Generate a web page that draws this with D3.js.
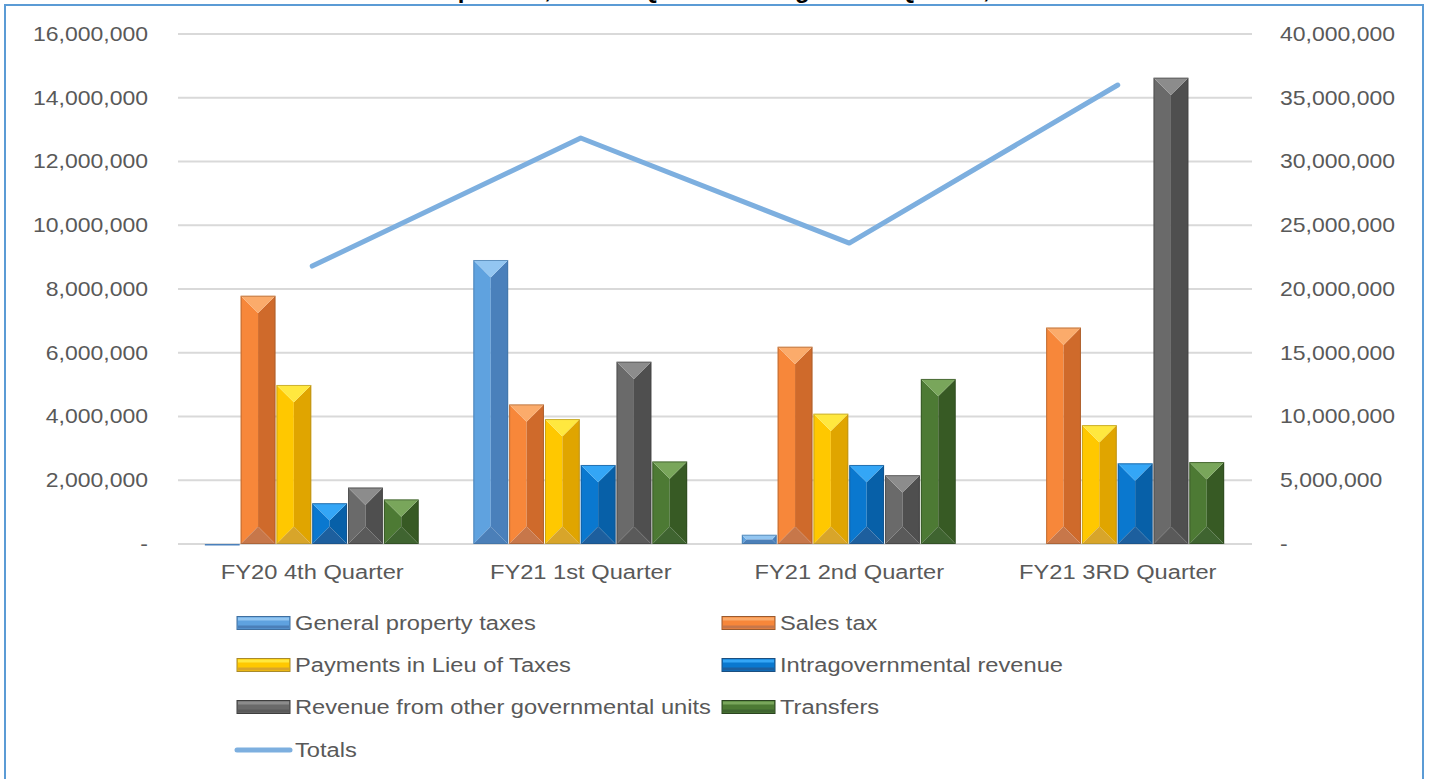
<!DOCTYPE html>
<html><head><meta charset="utf-8">
<script src="https://cdn.jsdelivr.net/npm/d3@7"></script>
<style>
body{margin:0;background:#fff;overflow:hidden;}
svg{display:block;}
text{font-family:"Liberation Sans",Arial,sans-serif;}
</style>
</head><body>
<svg id="c" width="1431" height="779"></svg>
<script>
// ---------- data ----------
const categories = ["FY20 4th Quarter", "FY21 1st Quarter", "FY21 2nd Quarter", "FY21 3RD Quarter"];
const seriesNames = ["General property taxes", "Sales tax", "Payments in Lieu of Taxes",
  "Intragovernmental revenue", "Revenue from other governmental units", "Transfers"];
const generalPropertyTaxes = [-20000, 8910000, 290000, 0];
const salesTax = [7790000, 4380000, 6190000, 6790000];
const paymentsInLieu = [4990000, 3920000, 4090000, 3730000];
const intragovernmental = [1280000, 2480000, 2480000, 2530000];
const otherGovernmental = [1770000, 5720000, 2160000, 14630000];
const transfers = [1400000, 2590000, 5180000, 2570000];
const totals = [21800000, 31840000, 23600000, 36000000];
const totalsName = "Totals";
const leftTicks = [0, 2000000, 4000000, 6000000, 8000000, 10000000, 12000000, 14000000, 16000000];
const rightTicks = [0, 5000000, 10000000, 15000000, 20000000, 25000000, 30000000, 35000000, 40000000];
const titleText = "Revenue Comparison, Fourth Quarter through Third Quarter, FY20 - FY21";

const seriesValues = [generalPropertyTaxes, salesTax, paymentsInLieu, intragovernmental, otherGovernmental, transfers];

// ---------- styles ----------
const palette = [
  {left:"#5fa2df", right:"#4a80bb", top:"#93c6f1", bottom:"#4b7fb8", stroke:"#3f6f9f"},
  {left:"#f7873a", right:"#cf6a2b", top:"#fbab6b", bottom:"#c7774a", stroke:"#9a5a2e"},
  {left:"#ffc800", right:"#e0a500", top:"#ffe83f", bottom:"#d8a52a", stroke:"#a98a2a"},
  {left:"#0a78cf", right:"#0760a8", top:"#34a6f6", bottom:"#1d5f9e", stroke:"#1b4f80"},
  {left:"#6a6a6a", right:"#4f4f4f", top:"#8c8c8c", bottom:"#5a5a5a", stroke:"#3e3e3e"},
  {left:"#4d7a34", right:"#375a24", top:"#79a65b", bottom:"#3f6430", stroke:"#2b4420"}
];
const textColor = "#595959";
const gridColor = "#d9d9d9";
const lineColor = "#7dafdf";
const sx = 1.15; // horizontal text stretch of the reference

const svg = d3.select("#c");

// border + clipped title (cut off at the top edge, as in the reference)
svg.append("text").attr("x", 715).attr("y", -2).attr("text-anchor", "middle")
  .attr("font-size", 24).attr("font-weight", "bold").attr("fill", "#000").text(titleText);
svg.append("rect").attr("x", 5).attr("y", 5).attr("width", 1418).attr("height", 820)
  .attr("fill", "none").attr("stroke", "#5b9bd5").attr("stroke-width", 2);

// ---------- scales ----------
const plotL = 178, plotR = 1252, y0px = 544, y1px = 34;
const x0 = d3.scaleBand().domain(categories).range([plotL, plotR]).paddingInner(0.2).paddingOuter(0.1);
const x1 = d3.scaleBand().domain(seriesNames).range([0, x0.bandwidth()]);
const yL = d3.scaleLinear().domain([0, 16000000]).range([y0px, y1px]);
const yR = d3.scaleLinear().domain([0, 40000000]).range([y0px, y1px]);
const fmt = v => v === 0 ? "-" : d3.format(",")(v);

function stext(g, x, y, str, anchor, size) {
  return g.append("text")
    .attr("transform", `translate(${x},${y}) scale(${sx},1)`)
    .attr("text-anchor", anchor).attr("dominant-baseline", "central")
    .attr("font-size", size || 20).attr("fill", textColor).text(str);
}

// gridlines
const grid = svg.append("g");
grid.selectAll("line").data(leftTicks).join("line")
  .attr("x1", plotL).attr("x2", plotR)
  .attr("y1", d => yL(d)).attr("y2", d => yL(d))
  .attr("stroke", gridColor).attr("stroke-width", 2);

// axes (labels via library scales)
const axL = svg.append("g");
leftTicks.forEach(t => stext(axL, 148, yL(t), fmt(t), "end"));
const axR = svg.append("g");
rightTicks.forEach(t => stext(axR, 1280, yR(t), fmt(t), "start"));
const axX = svg.append("g");
categories.forEach(c => stext(axX, x0(c) + x0.bandwidth() / 2, 572, c, "middle", 20.6));

// ---------- bars ----------
function bevelBar(g, x, w, v, p) {
  const yb = yL(0), yt = yL(v);
  if (v <= 0) {
    g.append("rect").attr("x", x).attr("y", yb).attr("width", w).attr("height", Math.max(1.5, yL(v) - yb))
      .attr("fill", p.right);
    return;
  }
  const h = yb - yt;
  const d = Math.min(w / 2, h / 2);
  const xa = x, xb = x + w, xc = x + w / 2;
  const poly = (pts, fill) => g.append("path").attr("d", "M" + pts.map(q => q.join(",")).join("L") + "Z").attr("fill", fill);
  poly([[xa, yt], [xa + d, yt + d], [xc, yt + d], [xc, yb - d], [xa + d, yb - d], [xa, yb]], p.left);
  poly([[xb, yt], [xb - d, yt + d], [xc, yt + d], [xc, yb - d], [xb - d, yb - d], [xb, yb]], p.right);
  poly([[xa, yt], [xb, yt], [xb - d, yt + d], [xa + d, yt + d]], p.top);
  poly([[xa, yb], [xb, yb], [xb - d, yb - d], [xa + d, yb - d]], p.bottom);
  g.append("rect").attr("x", xa + 0.5).attr("y", yt + 0.5).attr("width", w - 1).attr("height", Math.max(0, h - 1))
    .attr("fill", "none").attr("stroke", p.stroke).attr("stroke-opacity", 0.6).attr("stroke-width", 1);
}

const bars = svg.append("g");
categories.forEach((c, ci) => {
  seriesNames.forEach((s, si) => {
    const v = seriesValues[si][ci];
    if (v === 0) return;
    bevelBar(bars, x0(c) + x1(s), x1.bandwidth() - 1, v, palette[si]);
  });
});

// ---------- totals line ----------
const line = d3.line().x((d, i) => x0(categories[i]) + x0.bandwidth() / 2).y(d => yR(d));
svg.append("path").datum(totals).attr("d", line).attr("fill", "none")
  .attr("stroke", lineColor).attr("stroke-width", 5).attr("stroke-linecap", "round").attr("stroke-linejoin", "round");

// ---------- legend ----------
const leg = svg.append("g");
const legCols = [237, 722], legRows = [623, 665, 707, 750];
function legendSwatch(x, y, p) {
  leg.append("rect").attr("x", x).attr("y", y - 6.5).attr("width", 53).attr("height", 13).attr("fill", p.left)
    .attr("stroke", p.stroke).attr("stroke-width", 1);
  leg.append("rect").attr("x", x + 1).attr("y", y - 5.5).attr("width", 51).attr("height", 3).attr("fill", p.top);
  leg.append("rect").attr("x", x + 1).attr("y", y + 2.5).attr("width", 51).attr("height", 3).attr("fill", p.bottom);
}
seriesNames.forEach((s, i) => {
  const x = legCols[i % 2], y = legRows[Math.floor(i / 2)];
  legendSwatch(x, y, palette[i]);
  stext(leg, x + 58, y, s, "start", 20.6);
});
leg.append("line").attr("x1", 237).attr("x2", 290).attr("y1", legRows[3]).attr("y2", legRows[3])
  .attr("stroke", lineColor).attr("stroke-width", 5).attr("stroke-linecap", "round");
stext(leg, 295, legRows[3], totalsName, "start", 20.6);
</script>
</body></html>
